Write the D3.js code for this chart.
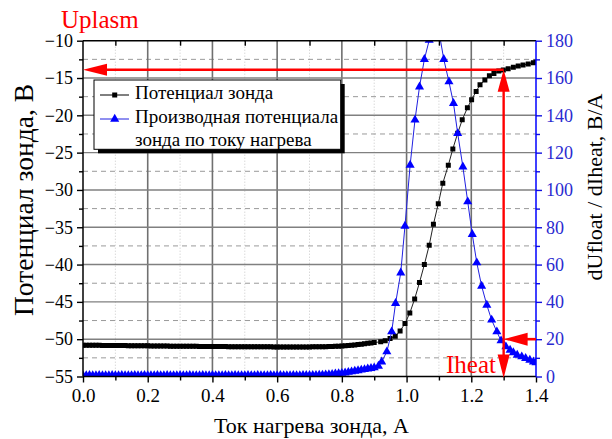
<!DOCTYPE html>
<html><head><meta charset="utf-8">
<script src="https://cdn.jsdelivr.net/npm/d3@7"></script>
<style>
body{margin:0;background:#fff}
svg text{font-family:"Liberation Serif","Times New Roman","DejaVu Serif",serif !important}
</style>
</head><body>
<svg id="c" width="612" height="439" font-family="Liberation Serif, serif"></svg>
<script>
// ---- data ----
const flatCurrent = [0.00,0.01,0.02,0.03,0.04,0.05,0.06,0.07,0.08,0.09,0.10,0.11,0.12,0.13,0.14,0.15,0.16,0.17,0.18,0.19,0.20,0.21,0.22,0.23,0.24,0.25,0.26,0.27,0.28,0.29,0.30,0.31,0.32,0.33,0.34,0.35,0.36,0.37,0.38,0.39,0.40,0.41,0.42,0.43,0.44,0.45,0.46,0.47,0.48,0.49,0.50,0.51,0.52,0.53,0.54,0.55,0.56,0.57,0.58,0.59,0.60,0.61,0.62,0.63,0.64,0.65,0.66,0.67,0.68,0.69,0.70,0.71,0.72,0.73,0.74,0.75,0.76,0.77,0.78,0.79,0.80,0.81,0.82,0.83,0.84,0.85,0.86,0.87,0.88,0.89,0.90];
const potFlat = [-50.80,-50.80,-50.81,-50.81,-50.82,-50.82,-50.83,-50.83,-50.84,-50.84,-50.85,
 -50.85,-50.86,-50.86,-50.87,-50.87,-50.88,-50.88,-50.88,-50.89,-50.89,
 -50.90,-50.90,-50.91,-50.91,-50.92,-50.92,-50.93,-50.93,-50.94,-50.94,
 -50.95,-50.95,-50.96,-50.96,-50.96,-50.97,-50.97,-50.97,-50.98,-50.98,
 -50.98,-50.99,-50.99,-50.99,-51.00,-51.00,-51.00,-51.01,-51.01,-51.01,
 -51.02,-51.02,-51.02,-51.02,-51.03,-51.03,-51.03,-51.03,-51.04,-51.04,
 -51.04,-51.04,-51.04,-51.05,-51.05,-51.05,-51.05,-51.04,-51.04,-51.04,
 -51.03,-51.03,-51.02,-51.01,-51.00,-50.99,-50.97,-50.95,-50.93,-50.90,
 -50.88,-50.85,-50.81,-50.77,-50.72,-50.67,-50.61,-50.56,-50.50,-50.45];
const potTailCurrent = [0.92,0.934,0.949,0.965,0.98,0.995,1.01,1.025,1.04,1.055,1.07,1.083,1.098,1.112,1.129,1.143,1.158,1.172,1.188,1.201,1.215,1.227,1.242,1.256,1.27,1.285,1.299,1.314,1.33,1.345,1.36,1.376,1.392,1.40];
const potTail = [-50.35,-50.2,-49.9,-49.6,-48.9,-47.9,-46.5,-44.6,-42.4,-40.0,-37.4,-34.6,-31.85,-29.1,-26.7,-24.5,-22.4,-20.6,-19.0,-17.9,-16.8,-15.9,-15.27,-14.7,-14.4,-14.06,-13.93,-13.75,-13.57,-13.4,-13.26,-13.12,-12.95,-12.85];

const derFlat = [0.5,0.5,0.6,0.5,0.5,0.6,0.5,0.5,0.5,0.6,0.5,
 0.5,0.6,0.5,0.5,0.5,0.6,0.5,0.5,0.6,0.5,
 0.5,0.5,0.6,0.5,0.5,0.6,0.5,0.5,0.5,0.6,
 0.5,0.5,0.6,0.5,0.5,0.5,0.6,0.5,0.5,0.6,
 0.5,0.5,0.5,0.6,0.5,0.5,0.6,0.5,0.5,0.5,
 0.6,0.5,0.5,0.6,0.5,0.5,0.5,0.6,0.5,0.5,
 0.6,0.5,0.5,0.5,0.6,0.5,0.5,0.6,0.6,0.6,
 0.7,0.7,0.8,0.8,0.9,1.0,1.2,1.4,1.6,1.8,
 2.0,2.3,2.6,2.9,3.2,3.5,3.8,4.1,4.4,4.7];
const derTailCurrent = [0.913,0.923,0.939,0.954,0.966,0.982,0.995,1.011,1.026,1.040,1.055,1.070,1.086,1.101,1.115,1.131,1.145,1.158,1.174,1.189,1.203,1.217,1.232,1.248,1.263,1.279,1.292,1.307,1.320,1.330,1.342,1.356,1.368,1.381,1.392,1.400];
const derTail = [5.6,7.9,13.3,24,39.2,55.6,80.6,113.3,137.5,155.3,170,180.3,195,184,170,158,146.4,130.3,112.4,93.7,76.2,61,48.5,38.3,30.3,24,19.2,16,14.2,12.8,11.5,10.6,9.75,8.8,7.9,7.5];

const xTicks = [0.0,0.2,0.4,0.6,0.8,1.0,1.2,1.4];
const xMinor = [0.1,0.3,0.5,0.7,0.9,1.1,1.3];
const yLeftTicks = [-55,-50,-45,-40,-35,-30,-25,-20,-15,-10];
const yLeftMinor = [-52.5,-47.5,-42.5,-37.5,-32.5,-27.5,-22.5,-17.5,-12.5];
const yRightTicks = [0,20,40,60,80,100,120,140,160,180];
const yRightMinor = [10,30,50,70,90,110,130,150,170];

const legendLabels = ["Потенциал зонда","Производная потенциала","зонда по току нагрева"];
const xTitle = "Ток нагрева зонда, А";
const yLeftTitle = "Потенциал зонда, В";
const yRightTitle = "dUfloat / dIheat, В/А";
const uplasmLabel = "Uplasm", iheatLabel = "Iheat";
const uplasmValue = -13.9, iheatValue = 1.3, derMarkValue = 20;

// ---- build ----
const SERIF = '"Liberation Serif","Times New Roman","DejaVu Serif",serif';
const potData = flatCurrent.map((c,i)=>({x:c,y:potFlat[i]})).concat(potTailCurrent.map((c,i)=>({x:c,y:potTail[i]})));
const derData = flatCurrent.map((c,i)=>({x:c,y:derFlat[i]})).concat(derTailCurrent.map((c,i)=>({x:c,y:derTail[i]})));

const L=83, R=536, T=40.7, B=376.5;
const svg = d3.select("#c");
const x = d3.scaleLinear().domain([0,1.4]).range([L,R]);
const yL = d3.scaleLinear().domain([-55,-10]).range([B,T]);
const yR = d3.scaleLinear().domain([0,180]).range([B,T]);

svg.append("defs").append("clipPath").attr("id","clip").append("rect")
  .attr("x",L).attr("y",T).attr("width",R-L).attr("height",B-T);

// grid
const g = svg.append("g");
g.selectAll(".xm").data(xMinor).join("line").attr("x1",d=>x(d)).attr("x2",d=>x(d)).attr("y1",T).attr("y2",B)
  .attr("stroke","#c8c8c8").attr("stroke-width",1).attr("stroke-dasharray","1,2");
g.selectAll(".ym").data(yLeftMinor).join("line").attr("x1",L).attr("x2",R).attr("y1",d=>yL(d)).attr("y2",d=>yL(d))
  .attr("stroke","#9a9a9a").attr("stroke-width",1).attr("stroke-dasharray","5,4");
g.selectAll(".xM").data(xTicks.slice(1,-1)).join("line").attr("x1",d=>x(d)).attr("x2",d=>x(d)).attr("y1",T).attr("y2",B)
  .attr("stroke","#707070").attr("stroke-width",1.6);
g.selectAll(".yM").data(yLeftTicks.slice(1,-1)).join("line").attr("x1",L).attr("x2",R).attr("y1",d=>yL(d)).attr("y2",d=>yL(d))
  .attr("stroke","#808080").attr("stroke-width",1.4);

// data
const plot = svg.append("g").attr("clip-path","url(#clip)");
plot.append("path").datum(potData).attr("fill","none").attr("stroke","#222").attr("stroke-width",1)
  .attr("d",d3.line().x(d=>x(d.x)).y(d=>yL(d.y)));
plot.selectAll(".sq").data(potData).join("path")
  .attr("transform",d=>`translate(${x(d.x)},${yL(d.y)})`)
  .attr("d",d3.symbol(d3.symbolSquare,25)).attr("fill","#000");
plot.append("path").datum(derData).attr("fill","none").attr("stroke","#2020e0").attr("stroke-width",1)
  .attr("d",d3.line().x(d=>x(d.x)).y(d=>yR(d.y)));
plot.selectAll(".tr").data(derData).join("path")
  .attr("transform",d=>`translate(${x(d.x)},${yR(d.y)})`)
  .attr("d",d3.symbol(d3.symbolTriangle,36)).attr("fill","#0000ff");

// axes
function styleAxis(sel,color,size){
  sel.attr("font-family",SERIF);
  sel.select(".domain").remove();
  sel.selectAll("line").attr("stroke",color).attr("stroke-width",1.4);
  sel.selectAll("text").attr("fill",color).style("font-size",size+"px").style("font-family",SERIF);
}
const ax = svg.append("g").attr("transform",`translate(0,${B})`)
  .call(d3.axisBottom(x).tickValues(xTicks).tickFormat(d3.format(".1f")).tickSize(6).tickPadding(6));
styleAxis(ax,"#000",19);
const axm = svg.append("g").attr("transform",`translate(0,${B})`)
  .call(d3.axisBottom(x).tickValues(xMinor).tickFormat("").tickSize(4));
styleAxis(axm,"#000",1);
const axt = svg.append("g").attr("transform",`translate(0,${T})`)
  .call(d3.axisBottom(x).tickValues(xMinor).tickFormat("").tickSize(5));
styleAxis(axt,"#000",1);
const ayl = svg.append("g").attr("transform",`translate(${L},0)`)
  .call(d3.axisLeft(yL).tickValues(yLeftTicks).tickFormat(d3.format("d")).tickSize(6).tickPadding(4));
styleAxis(ayl,"#000",18);
const aylm = svg.append("g").attr("transform",`translate(${L},0)`)
  .call(d3.axisLeft(yL).tickValues(yLeftMinor).tickFormat("").tickSize(4));
styleAxis(aylm,"#000",1);
const ayr = svg.append("g").attr("transform",`translate(${R},0)`)
  .call(d3.axisRight(yR).tickValues(yRightTicks).tickFormat(d3.format("d")).tickSize(6).tickPadding(4));
styleAxis(ayr,"#1010e0",18);
ayr.selectAll("text").attr("fill","#2a2ad0");
const ayrm = svg.append("g").attr("transform",`translate(${R},0)`)
  .call(d3.axisRight(yR).tickValues(yRightMinor).tickFormat("").tickSize(4));
styleAxis(ayrm,"#1010e0",1);

// frame
svg.append("line").attr("x1",L).attr("x2",R).attr("y1",T).attr("y2",T).attr("stroke","#000").attr("stroke-width",1.5);
svg.append("line").attr("x1",L).attr("x2",R).attr("y1",B).attr("y2",B).attr("stroke","#000").attr("stroke-width",1.5);
svg.append("line").attr("x1",L).attr("x2",L).attr("y1",T).attr("y2",B).attr("stroke","#000").attr("stroke-width",1.5);
svg.append("line").attr("x1",R).attr("x2",R).attr("y1",T).attr("y2",B).attr("stroke","#0000ff").attr("stroke-width",1.5);

// titles
function txt(){ return svg.append("text").style("font-family",SERIF); }
txt().attr("x",(L+R)/2+2).attr("y",433).attr("text-anchor","middle").style("font-size","22px").text(xTitle);
txt().attr("transform",`translate(33,200) rotate(-90)`).attr("text-anchor","middle").style("font-size","27.5px").text(yLeftTitle);
txt().attr("transform",`translate(602,${187}) rotate(-90)`).attr("text-anchor","middle").style("font-size","22px").text(yRightTitle);

// legend
const lg = svg.append("g");
lg.append("rect").attr("x",98).attr("y",84).attr("width",246.7).attr("height",69.3).attr("fill","#000");
lg.append("rect").attr("x",94).attr("y",80).attr("width",246.7).attr("height",69.3).attr("fill","#fff").attr("stroke","#000").attr("stroke-width",1);
lg.append("line").attr("x1",100).attr("x2",129).attr("y1",95).attr("y2",95).attr("stroke","#000").attr("stroke-width",1);
lg.append("path").attr("transform","translate(114.7,95)").attr("d",d3.symbol(d3.symbolSquare,25)).attr("fill","#000");
lg.append("line").attr("x1",100).attr("x2",129).attr("y1",119).attr("y2",119).attr("stroke","#2020e0").attr("stroke-width",1);
lg.append("path").attr("transform","translate(114.7,119)").attr("d",d3.symbol(d3.symbolTriangle,36)).attr("fill","#0000ff");
lg.selectAll(".lt").data(legendLabels).join("text").attr("x",135).attr("y",(d,i)=>[99,122.5,145.5][i])
  .style("font-size","19px").style("font-family",SERIF).text(d=>d);

// red annotations
const red="#ff0000";
const ax13 = x(iheatValue), yU = yL(uplasmValue), yD = yR(derMarkValue);
const ann = svg.append("g");
ann.append("line").attr("x1",ax13).attr("x2",x(0)+20).attr("y1",yU).attr("y2",yU).attr("stroke",red).attr("stroke-width",2.6);
ann.append("path").attr("d",`M${x(0)},${yU} L${x(0)+24},${yU-6} L${x(0)+24},${yU+6} Z`).attr("fill",red);
ann.append("line").attr("x1",ax13).attr("x2",ax13).attr("y1",yU+20).attr("y2",B-20).attr("stroke",red).attr("stroke-width",2.4);
ann.append("path").attr("d",`M${ax13},${yU} L${ax13-6},${yU+22} L${ax13+6},${yU+22} Z`).attr("fill",red);
ann.append("path").attr("d",`M${ax13},${B+1.5} L${ax13-6},${B-22} L${ax13+6},${B-22} Z`).attr("fill",red);
ann.append("line").attr("x1",R).attr("x2",ax13+20).attr("y1",yD).attr("y2",yD).attr("stroke",red).attr("stroke-width",2.6);
ann.append("path").attr("d",`M${ax13},${yD} L${ax13+24},${yD-6.5} L${ax13+24},${yD+6.5} Z`).attr("fill",red);
txt().attr("x",61).attr("y",28).style("font-size","25px").attr("fill",red).text(uplasmLabel);
txt().attr("x",446).attr("y",373).style("font-size","25px").attr("fill",red).text(iheatLabel);
</script>
</body></html>
